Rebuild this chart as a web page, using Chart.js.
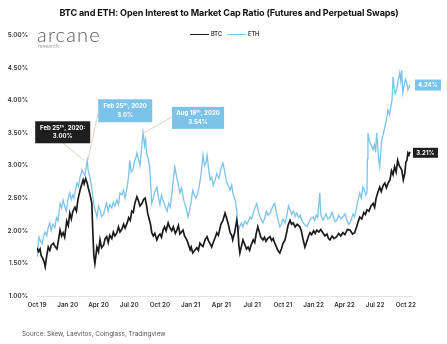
<!DOCTYPE html>
<html><head><meta charset="utf-8">
<script src="https://cdn.jsdelivr.net/npm/chart.js@4"></script>
<style>
html,body{margin:0;padding:0;background:#fff;}
#wrap{position:relative;width:447px;height:344px;overflow:hidden;font-family:Inter,"Open Sans",sans-serif;}
canvas{position:absolute;left:0;top:0;}
.t{position:absolute;white-space:nowrap;}
#title{left:0;width:458px;top:7px;text-align:center;font-weight:700;font-size:9.1px;line-height:12px;color:#111;letter-spacing:-0.15px;}
#logo{left:37px;top:22px;font-size:20px;color:#5a5a5a;font-weight:300;letter-spacing:1.2px;font-family:Lato,Inter,sans-serif;}
#logo2{left:38px;top:43px;font-size:5px;color:#aaa;}
#legend{left:190px;top:31px;font-size:5.6px;font-weight:600;color:#333;display:flex;align-items:center;}
#legend span.l{display:inline-block;width:19px;height:0;margin-right:2px;}
#source{left:22px;top:330px;font-size:6.4px;color:#555;}
</style></head>
<body>
<div id="wrap">
<canvas id="c" width="447" height="344"></canvas>
<div class="t" id="title">BTC and ETH: Open Interest to Market Cap Ratio (Futures and Perpetual Swaps)</div>
<div class="t" id="logo">arcane</div>
<div class="t" id="logo2">research</div>
<div class="t" id="legend"><span class="l" style="border-top:1.6px solid #1b1b1b"></span>BTC<span class="l" style="border-top:1.2px solid #7cc3ea;margin-left:5px"></span>ETH</div>
<div class="t" id="source">Source: Skew, Laevitos, Coinglass, Tradingview</div>
</div>
<script>
const tickLabels = ["Oct 19","Jan 20","Apr 20","Jul 20","Oct 20","Jan 21","Apr 21","Jul 21","Oct 21","Jan 22","Apr 22","Jul 22","Oct 22"];
const yTicks = [1.0,1.5,2.0,2.5,3.0,3.5,4.0,4.5,5.0];

// months since Oct 1 2019
const btcMonths = [0.0,0.15,0.3,0.4,0.55,0.7,0.8,0.95,1.1,1.25,1.4,1.6,1.75,1.95,2.1,2.25,2.4,2.55,2.7,2.9,3.05,3.2,3.35,3.5,3.7,3.85,4.0,4.2,4.35,4.5,4.6,4.75,4.9,5.0,5.1,5.25,5.35,5.45,5.55,5.65,5.75,5.85,6.0,6.15,6.3,6.5,6.65,6.8,6.95,7.1,7.3,7.45,7.6,7.8,7.95,8.1,8.3,8.45,8.6,8.8,8.95,9.1,9.25,9.4,9.55,9.75,9.9,10.05,10.25,10.4,10.55,10.7,10.8,10.95,11.1,11.2,11.35,11.5,11.7,11.85,12.0,12.15,12.3,12.45,12.6,12.8,12.95,13.15,13.3,13.5,13.65,13.8,13.95,14.1,14.25,14.4,14.55,14.65,14.8,14.95,15.05,15.2,15.4,15.6,15.75,15.9,16.05,16.2,16.4,16.6,16.75,16.9,17.05,17.2,17.4,17.55,17.7,17.95,18.15,18.35,18.5,18.7,18.85,19.0,19.1,19.3,19.5,19.6,19.7,19.8,19.95,20.1,20.25,20.45,20.6,20.75,20.9,21.1,21.25,21.4,21.55,21.7,21.85,22.05,22.2,22.35,22.5,22.75,22.9,23.05,23.2,23.35,23.5,23.7,23.85,24.0,24.2,24.35,24.5,24.7,24.85,25.0,25.2,25.4,25.65,25.8,25.95,26.15,26.3,26.5,26.65,26.8,27.0,27.15,27.3,27.5,27.7,27.9,28.1,28.3,28.45,28.6,28.8,29.0,29.25,29.45,29.65,29.85,30.05,30.3,30.55,30.8,31.0,31.2,31.35,31.5,31.7,31.9,32.05,32.2,32.4,32.6,32.8,32.95,33.1,33.25,33.45,33.6,33.8,33.95,34.1,34.3,34.45,34.6,34.75,34.9,35.05,35.2,35.35,35.5,35.6,35.75,35.9,36.0,36.1,36.2,36.3,36.4];
const btcValues = [1.74,1.68,1.72,1.62,1.58,1.52,1.45,1.62,1.75,1.70,1.78,1.81,1.76,1.72,1.86,2.01,1.92,1.97,1.90,2.15,2.08,2.27,2.18,2.30,2.36,2.30,2.48,2.62,2.70,2.78,2.72,2.80,2.73,2.66,2.60,2.50,2.42,1.97,1.62,1.50,1.62,1.75,1.68,1.86,1.74,1.78,1.88,1.91,1.82,1.93,1.88,1.98,1.92,1.97,2.06,1.98,2.03,2.10,2.04,2.12,2.20,2.16,2.30,2.28,2.42,2.52,2.46,2.38,2.42,2.48,2.50,2.38,2.27,2.18,2.08,1.97,1.92,1.96,1.86,1.92,1.95,1.90,2.01,2.06,2.00,2.12,2.05,2.00,2.06,1.96,2.01,2.08,1.95,1.98,2.01,1.92,1.88,1.85,1.78,1.71,1.75,1.66,1.70,1.74,1.70,1.81,1.78,1.76,1.86,1.91,1.84,1.80,1.75,1.82,1.90,1.97,1.93,2.10,2.16,2.27,2.20,2.08,1.97,1.93,1.86,1.98,2.16,2.06,1.78,1.66,1.76,1.86,1.80,1.72,1.75,1.70,1.78,1.86,1.82,1.96,2.06,1.98,1.90,1.86,1.90,1.84,1.88,1.91,1.85,1.88,1.81,1.76,1.70,1.66,1.72,1.80,1.86,1.96,2.08,2.16,2.10,2.12,2.06,2.10,2.06,2.00,1.88,1.75,1.82,1.92,1.97,1.94,2.00,1.96,2.01,1.98,2.02,1.97,1.92,1.95,1.88,1.86,1.92,1.88,1.91,1.96,1.92,1.97,1.94,2.02,2.01,1.95,1.97,2.06,2.14,2.21,2.18,2.28,2.25,2.32,2.30,2.38,2.42,2.36,2.50,2.58,2.67,2.60,2.70,2.73,2.66,2.74,2.78,2.92,2.86,2.98,2.90,3.08,3.00,2.96,2.93,2.78,2.88,3.05,3.08,3.19,3.16,3.21];

const ethMonths = [0.0,0.1,0.2,0.35,0.5,0.65,0.8,0.95,1.1,1.25,1.4,1.55,1.75,1.9,2.05,2.25,2.4,2.55,2.7,2.85,3.0,3.2,3.35,3.5,3.6,3.75,3.9,4.05,4.2,4.4,4.55,4.7,4.8,4.9,5.0,5.15,5.3,5.45,5.6,5.75,5.85,6.0,6.15,6.3,6.5,6.65,6.8,6.95,7.1,7.3,7.45,7.6,7.8,7.95,8.1,8.3,8.45,8.6,8.8,8.95,9.05,9.2,9.35,9.5,9.65,9.75,9.9,10.05,10.2,10.35,10.5,10.6,10.7,10.85,11.0,11.1,11.2,11.35,11.5,11.7,11.85,12.0,12.15,12.3,12.5,12.7,12.85,13.0,13.15,13.3,13.45,13.6,13.8,13.95,14.1,14.35,14.55,14.75,14.9,15.05,15.2,15.35,15.5,15.7,15.85,16.0,16.2,16.35,16.5,16.6,16.75,16.9,17.05,17.2,17.35,17.55,17.75,17.95,18.15,18.3,18.5,18.7,18.85,19.0,19.15,19.35,19.5,19.6,19.75,19.95,20.1,20.3,20.5,20.8,20.95,21.1,21.3,21.45,21.6,21.8,22.05,22.2,22.4,22.55,22.75,22.95,23.1,23.2,23.35,23.55,23.7,23.85,24.0,24.2,24.35,24.55,24.7,24.85,25.05,25.2,25.35,25.55,25.7,25.85,26.0,26.2,26.35,26.5,26.7,26.95,27.1,27.25,27.4,27.5,27.6,27.7,27.9,28.05,28.2,28.4,28.6,28.8,28.95,29.1,29.25,29.45,29.65,29.85,30.05,30.25,30.4,30.55,30.7,30.85,31.0,31.15,31.3,31.5,31.65,31.8,31.95,32.1,32.2,32.25,32.3,32.4,32.5,32.65,32.8,32.95,33.05,33.15,33.25,33.35,33.45,33.55,33.65,33.8,33.95,34.1,34.25,34.4,34.55,34.65,34.75,34.85,34.95,35.1,35.25,35.4,35.5,35.6,35.7,35.8,35.95,36.1,36.2,36.3,36.4];
const ethValues = [1.60,1.75,1.90,1.84,1.80,1.92,1.98,1.92,2.05,2.12,2.00,2.10,2.05,2.20,2.15,2.42,2.35,2.47,2.38,2.30,2.45,2.58,2.48,2.55,2.50,2.62,2.73,2.68,2.82,2.93,2.88,2.85,2.98,3.08,2.92,2.83,2.70,2.52,2.35,2.28,2.21,2.38,2.32,2.22,2.25,2.35,2.42,2.30,2.40,2.35,2.44,2.38,2.47,2.40,2.58,2.55,2.62,2.50,2.67,2.85,3.08,2.90,2.93,3.05,3.12,3.19,3.10,3.00,3.25,3.50,3.30,3.40,3.19,3.10,2.98,2.70,2.42,2.50,2.60,2.67,2.52,2.40,2.55,2.47,2.38,2.30,2.42,2.36,2.55,2.78,2.98,2.85,2.70,2.58,2.66,2.45,2.35,2.21,2.32,2.45,2.62,2.55,2.50,2.58,2.70,2.85,3.16,3.00,3.05,3.16,2.95,2.78,2.82,2.70,2.76,2.88,2.80,2.95,3.04,2.92,2.75,2.68,2.62,2.70,2.55,2.47,2.30,1.97,2.05,2.12,2.06,2.15,2.10,2.21,2.18,2.28,2.36,2.42,2.30,2.20,2.12,2.18,2.30,2.24,2.27,2.35,2.40,2.42,2.28,2.15,2.06,2.10,2.18,2.12,2.20,2.38,2.32,2.25,2.30,2.22,2.27,2.20,2.24,2.16,2.12,2.08,2.06,2.12,2.18,2.21,2.16,2.24,2.20,2.40,2.58,2.25,2.16,2.20,2.26,2.18,2.21,2.28,2.20,2.14,2.16,2.24,2.18,2.21,2.26,2.16,2.10,2.12,2.18,2.26,2.21,2.32,2.45,2.58,2.50,2.67,2.62,2.55,2.58,3.10,3.50,3.40,3.35,3.30,3.24,3.32,3.20,3.50,3.30,3.10,2.98,3.20,3.39,3.48,3.59,3.70,3.85,3.78,3.92,4.00,4.36,4.20,4.10,4.16,4.30,4.42,4.30,4.46,4.11,4.20,4.32,4.26,4.16,4.20,4.24];

const notes = [
  {month:4.9, value:3.08},
  {month:10.35, value:3.50}
];

const BTC_COLOR = "#1b1b1b";
const ETH_COLOR = "#7cc3ea";

const toPts = (xs, ys) => xs.map((m, i) => ({x: m, y: ys[i]}));

const annPlugin = {
  id: "ann",
  afterDatasetsDraw(chart) {
    const {ctx, scales: {x, y}} = chart;
    ctx.save();
    const font = "700 6px Inter, sans-serif";
    function box(l, t, w, h, fill, lines) {
      ctx.fillStyle = fill;
      ctx.fillRect(l, t, w, h);
      ctx.fillStyle = "#fff";
      ctx.font = font;
      ctx.textAlign = "center";
      ctx.textBaseline = "middle";
      const n = lines.length;
      lines.forEach((s, i) => {
        ctx.fillText(s, l + w / 2, t + h / 2 + (i - (n - 1) / 2) * 8.5);
      });
    }
    function leader(x1, y1, x2, y2) {
      ctx.strokeStyle = "#d6c7ba";
      ctx.lineWidth = 0.8;
      ctx.beginPath(); ctx.moveTo(x1, y1); ctx.lineTo(x2, y2); ctx.stroke();
    }
    const a1x = x.getPixelForValue(notes[0].month), a1y = y.getPixelForValue(notes[0].value);
    leader(a1x - 24, a1y - 17, a1x - 3, a1y);
    leader(a1x + 11, a1y - 48, a1x + 1, a1y - 1);
    box(a1x - 52, a1y - 39, 55, 22, "#1e1e1e", ["Feb 25\u1d57\u02b0, 2020:", "3.00%"]);
    box(a1x + 11, a1y - 61, 54, 23, ETH_COLOR, ["Feb 25\u1d57\u02b0, 2020", "3.0%"]);
    const a2x = x.getPixelForValue(notes[1].month), a2y = y.getPixelForValue(notes[1].value);
    leader(a2x + 29, a2y - 16, a2x + 1, a2y);
    box(a2x + 29, a2y - 26, 52, 22, ETH_COLOR, ["Aug 19\u1d57\u02b0, 2020", "3.54%"]);
    const ex = x.getPixelForValue(ethMonths[ethMonths.length - 1]);
    const ey = y.getPixelForValue(ethValues[ethValues.length - 1]);
    box(ex + 5, ey - 5, 26, 11, ETH_COLOR, [ethValues[ethValues.length - 1].toFixed(2) + "%"]);
    const bx = x.getPixelForValue(btcMonths[btcMonths.length - 1]);
    const by = y.getPixelForValue(btcValues[btcValues.length - 1]);
    box(bx + 3, by - 4, 25, 10, "#1e1e1e", [btcValues[btcValues.length - 1].toFixed(2) + "%"]);
    ctx.restore();
  }
};

new Chart(document.getElementById("c"), {
  type: "line",
  data: {
    datasets: [
      {label: "BTC", data: toPts(btcMonths, btcValues), borderColor: BTC_COLOR, borderWidth: 1.7, pointRadius: 0, tension: 0, fill: false},
      {label: "ETH", data: toPts(ethMonths, ethValues), borderColor: ETH_COLOR, borderWidth: 1.3, pointRadius: 0, tension: 0, fill: false}
    ]
  },
  options: {
    responsive: false,
    animation: false,
    events: [],
    layout: {padding: {left: 0, right: 35, top: 35, bottom: 28}},
    plugins: {legend: {display: false}, title: {display: false}, tooltip: {enabled: false}},
    scales: {
      x: {
        type: "linear", min: 0, max: 36.6,
        afterBuildTicks(s) { s.ticks = tickLabels.map((_, i) => ({value: i * 3})); },
        afterFit(s) { s.height = 20; },
        ticks: {
          autoSkip: false, maxRotation: 0, padding: 5,
          color: "#333", font: {family: "Inter", size: 6.3, weight: "600"},
          callback: (v) => tickLabels[Math.round(v / 3)]
        },
        grid: {display: false, drawTicks: false},
        border: {display: true, color: "#e3e3e3", width: 1}
      },
      y: {
        type: "linear", min: 1, max: 5,
        afterBuildTicks(s) { s.ticks = yTicks.map(v => ({value: v})); },
        afterFit(s) { s.width = 37; },
        ticks: {
          padding: 9, color: "#333", font: {family: "Inter", size: 6.3, weight: "600"},
          callback: (v) => v.toFixed(2) + "%"
        },
        grid: {display: false, drawTicks: false},
        border: {display: false}
      }
    }
  },
  plugins: [annPlugin]
});
</script>
</body></html>
